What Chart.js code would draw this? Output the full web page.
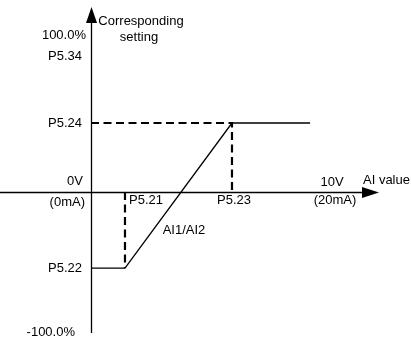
<!DOCTYPE html>
<html>
<head>
<meta charset="utf-8">
<script src="https://cdn.jsdelivr.net/npm/chart.js@4/dist/chart.umd.min.js"></script>
<style>
  html, body { margin: 0; padding: 0; background: #fff; }
  #aiChart { display: block; }
</style>
</head>
<body>
<canvas id="aiChart" width="411" height="338"></canvas>
<script>
// AI input curve: x in volts (0..10V), y in % of the setting
const curveX = [0, 1.41, 5.85, 9.09];
const curveY = [-50.7, -50.7, 46, 46];

// break points: P5.21 / P5.23 on the input, P5.22 / P5.24 on the setting
const breakX = [1.41, 5.85];
const breakY = [-50.7, 46];
const breakXLabels = ['P5.21', 'P5.23'];
const breakYLabels = ['P5.22', 'P5.24'];

const curvePoints = curveX.map((x, i) => ({ x: x, y: curveY[i] }));

// dashed guides from each break point back to the axes
const guideTop = [{ x: 0, y: breakY[1] }, { x: breakX[1], y: breakY[1] }, { x: breakX[1], y: 0 }];
const guideBottom = [{ x: breakX[0], y: 0 }, { x: breakX[0], y: breakY[0] }];

const FONT = '13px "Liberation Sans", Arial, sans-serif';

const axesAndText = {
    id: 'axesAndText',
    afterDatasetsDraw(chart) {
        const ctx = chart.ctx;
        const xs = chart.scales.x, ys = chart.scales.y;
        const x0 = Math.round(xs.getPixelForValue(0)) + 0.5;
        const y0 = Math.round(ys.getPixelForValue(0)) + 0.5;

        ctx.save();
        ctx.strokeStyle = '#000';
        ctx.fillStyle = '#000';
        ctx.lineWidth = 1.3;

        // axes
        ctx.beginPath();
        ctx.moveTo(x0, 333);
        ctx.lineTo(x0, 20);
        ctx.moveTo(0, y0);
        ctx.lineTo(366, y0);
        ctx.stroke();

        // arrow heads
        ctx.beginPath();
        ctx.moveTo(x0, 7);
        ctx.lineTo(x0 - 5.5, 23);
        ctx.lineTo(x0 + 5.5, 23);
        ctx.closePath();
        ctx.fill();
        ctx.beginPath();
        ctx.moveTo(379, y0);
        ctx.lineTo(362, y0 - 5.5);
        ctx.lineTo(362, y0 + 5.5);
        ctx.closePath();
        ctx.fill();

        ctx.font = FONT;
        ctx.textBaseline = 'middle';

        // left side labels
        ctx.textAlign = 'right';
        ctx.fillText('100.0%', 86, 35);
        ctx.fillText('P5.34', 82, 56);
        ctx.fillText('0V', 83, 181);
        ctx.fillText('(0mA)', 85, 202);
        ctx.fillText('-100.0%', 75, 332);
        breakY.forEach((v, i) => {
            ctx.fillText(breakYLabels[i], 82, ys.getPixelForValue(v));
        });

        // labels under the input axis
        ctx.textAlign = 'left';
        ctx.fillText(breakXLabels[0], xs.getPixelForValue(breakX[0]) + 4, 200);
        ctx.textAlign = 'center';
        ctx.fillText(breakXLabels[1], xs.getPixelForValue(breakX[1]) + 2, 200);

        ctx.fillText('10V', 332, 182);
        ctx.fillText('(20mA)', 335, 200);
        ctx.fillText('AI1/AI2', 184, 230);
        ctx.fillText('Corresponding', 141, 21);
        ctx.fillText('setting', 139, 37);
        ctx.textAlign = 'left';
        ctx.fillText('AI value', 363, 180);
        ctx.restore();
    }
};

new Chart(document.getElementById('aiChart'), {
    type: 'scatter',
    data: {
        datasets: [
            {
                data: guideTop,
                showLine: true,
                borderColor: '#000',
                borderWidth: 2.2,
                borderDash: [8, 4.5],
                pointRadius: 0,
                tension: 0
            },
            {
                data: guideBottom,
                showLine: true,
                borderColor: '#000',
                borderWidth: 2.2,
                borderDash: [8, 4.5],
                pointRadius: 0,
                tension: 0
            },
            {
                label: 'AI1/AI2',
                data: curvePoints,
                showLine: true,
                borderColor: '#000',
                borderWidth: 1.3,
                pointRadius: 0,
                tension: 0
            }
        ]
    },
    options: {
        responsive: false,
        animation: false,
        layout: { padding: 0 },
        scales: {
            x: { type: 'linear', display: false, min: -91 / 24.1, max: 320 / 24.1 },
            y: { type: 'linear', display: false, min: -146 / 1.5, max: 192 / 1.5 }
        },
        plugins: {
            legend: { display: false },
            tooltip: { enabled: false }
        }
    },
    plugins: [axesAndText]
});
</script>
</body>
</html>
